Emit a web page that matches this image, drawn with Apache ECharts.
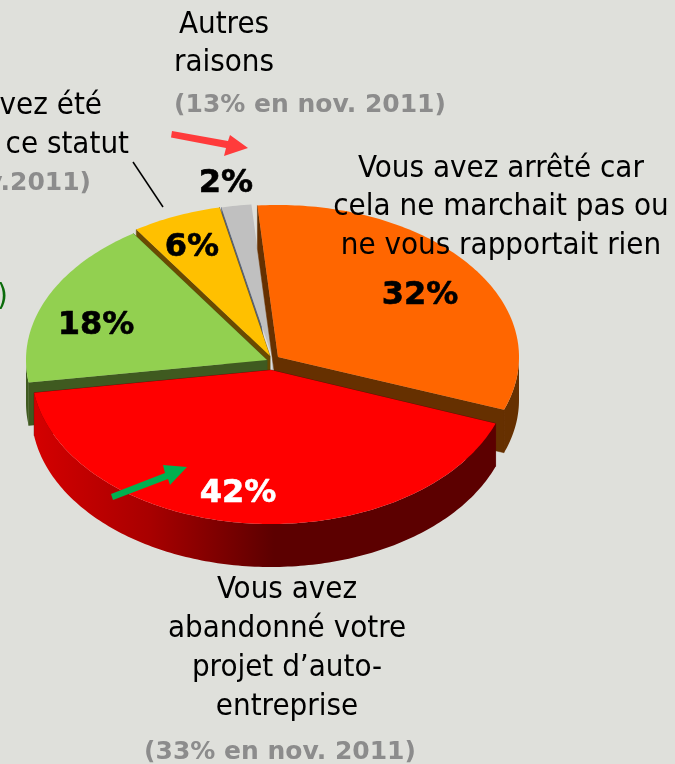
<!DOCTYPE html>
<html><head><meta charset="utf-8">
<style>html,body{margin:0;padding:0;background:#dfe0db}#c{width:675px;height:764px}</style>
<script src="https://cdn.jsdelivr.net/npm/echarts@6/dist/echarts.min.js"></script>
</head><body><div id="c"></div>
<script>
// Data (clockwise from the lower-right edge of the red slice)
const sliceNames = ['Vous avez abandonné votre projet d’auto-entreprise', 'Autre motif', 'Vous avez été … ce statut', 'Autres raisons', 'Vous avez arrêté car cela ne marchait pas ou ne vous rapportait rien'];
const shares = [42, 18, 6, 2, 32];
const sliceColors = ['#ff0000', '#92d050', '#ffc000', '#c0c0c0', '#ff6600'];
const faceColors = ['#5c0000', '#3f5a20', '#6a4a00', '#5a6478', '#663000'];
const endFaceColors = ['#5c0000', '#3f5a20', '#6a4a00', '#dedede', '#663000'];
const drawOrder = [5, 4, 2, 1, 3];
const labelColors = ['#ffffff', '#000000', '#000000', '#000000', '#000000'];
const labelPos = [[238, 494], [96, 326], [192, 248], [226, 184], [420, 296]];
const centers = [[271, 370], [267, 360], [270, 356], [272, 356], [278, 357]];
const radiiX = [239.5, 241, 241, 241, 241];
const radiiY = [154, 152, 152, 152, 152];
const DEPTH = 43, START = 20.3;

const REG = 'condensed 31px "DejaVu Sans"';
const GREY = 'bold 25px "DejaVu Sans"';
const notes = [
  ['Autres', 224, 25, 'center', REG, '#000'],
  ['raisons', 224, 63, 'center', REG, '#000'],
  ['(13% en nov. 2011)', 310, 105, 'center', GREY, '#8c8c8c'],
  ['vez été', 102, 106, 'right', REG, '#000'],
  ['ce statut', 129, 145, 'right', REG, '#000'],
  ['v.2011)', 91, 183, 'right', GREY, '#8c8c8c'],
  [')', 8, 297, 'right', REG, '#0b6b0b'],
  ['Vous avez arrêté car', 501, 169, 'center', REG, '#000'],
  ['cela ne marchait pas ou', 501, 207, 'center', REG, '#000'],
  ['ne vous rapportait rien', 501, 246, 'center', REG, '#000'],
  ['Vous avez', 287, 590, 'center', REG, '#000'],
  ['abandonné votre', 287, 629, 'center', REG, '#000'],
  ['projet d’auto-', 287, 668, 'center', REG, '#000'],
  ['entreprise', 287, 707, 'center', REG, '#000'],
  ['(33% en nov. 2011)', 280, 752, 'center', GREY, '#8c8c8c']
];

const rad = d => d * Math.PI / 180;
function arcPts(i, a0, a1) {
  const c = centers[i], pts = [], n = Math.max(2, Math.ceil(Math.abs(a1 - a0)));
  for (let k = 0; k <= n; k++) {
    const a = rad(a0 + (a1 - a0) * k / n);
    pts.push([c[0] + radiiX[i] * Math.cos(a), c[1] + radiiY[i] * Math.sin(a)]);
  }
  return pts;
}
const total = shares.reduce((a, b) => a + b, 0);

function renderItem(params, api) {
  const i = params.dataIndex, value = api.value(0);
  let before = 0;
  for (let k = 0; k < i; k++) before += shares[k];
  const a0 = START + before / total * 360, a1 = a0 + value / total * 360;
  const c = centers[i], z = drawOrder[i] * 10, kids = [];
  const rim0 = arcPts(i, a0, a0)[0], rim1 = arcPts(i, a1, a1)[0];
  const down = p => [p[0], p[1] + DEPTH];
  // cut faces
  [[rim0, faceColors[i]], [rim1, endFaceColors[i]]].forEach(f => kids.push({
    type: 'polygon', z2: z, silent: true,
    shape: { points: [c, f[0], down(f[0]), down(c)] },
    style: { fill: f[1], stroke: f[1], lineWidth: 0.5 }
  }));
  // outer wall: the parts of the rim facing the viewer (0–180°, also after wrapping past 360°)
  [[a0, a1], [a0 - 360, a1 - 360]].forEach(r => {
    const from = Math.max(r[0], 0), to = Math.min(r[1], 180);
    if (to <= from) return;
    const top = arcPts(i, from, to);
    const fill = i === 0 ? { type: 'linear', x: 0, y: 0, x2: 1, y2: 0, colorStops: [
      { offset: 0, color: '#d40000' }, { offset: 0.25, color: '#a80000' },
      { offset: 0.52, color: '#5c0000' }, { offset: 1, color: '#5c0000' }] } : faceColors[i];
    kids.push({
      type: 'polygon', z2: z + 1, silent: true,
      shape: { points: top.concat(top.slice().reverse().map(down)) },
      style: { fill: fill }
    });
  });
  // top surface
  kids.push({
    type: 'polygon', z2: z + 2, silent: true,
    shape: { points: [c].concat(arcPts(i, a0, a1)) },
    style: { fill: sliceColors[i] }
  });
  // value label
  kids.push({
    type: 'text', z2: 100, silent: true,
    style: { text: value + '%', x: labelPos[i][0], y: labelPos[i][1], align: 'center', verticalAlign: 'middle',
      font: 'bold 32px "DejaVu Sans"', fill: labelColors[i], stroke: labelColors[i], lineWidth: 0.6 }
  });
  return { type: 'group', children: kids };
}

const chart = echarts.init(document.getElementById('c'), null, { renderer: 'canvas' });
chart.setOption({
  animation: false,
  backgroundColor: '#dfe0db',
  series: [{
    type: 'custom', coordinateSystem: 'none', renderItem, silent: true,
    data: shares.map((v, i) => ({ name: sliceNames[i], value: [v] }))
  }],
  graphic: { elements: notes.map(n => ({
    type: 'text', z: 50, silent: true,
    style: { text: n[0], x: n[1], y: n[2], align: n[3], verticalAlign: 'middle', font: n[4], fill: n[5] }
  })).concat([
    { type: 'line', z: 50, silent: true, shape: { x1: 133, y1: 162, x2: 163, y2: 207 }, style: { stroke: '#000', lineWidth: 1.5 } },
    { type: 'polygon', z: 50, silent: true, shape: { points: [[172, 131], [228, 141], [230, 135], [248, 148], [224, 156], [226, 148], [171, 137.5]] }, style: { fill: '#ff3b3b' } },
    { type: 'polygon', z: 50, silent: true, shape: { points: [[111, 494], [165, 473], [163, 465], [187, 467], [170, 485], [168, 479], [113, 500]] }, style: { fill: '#00b050' } }
  ]) }
});
</script></body></html>
